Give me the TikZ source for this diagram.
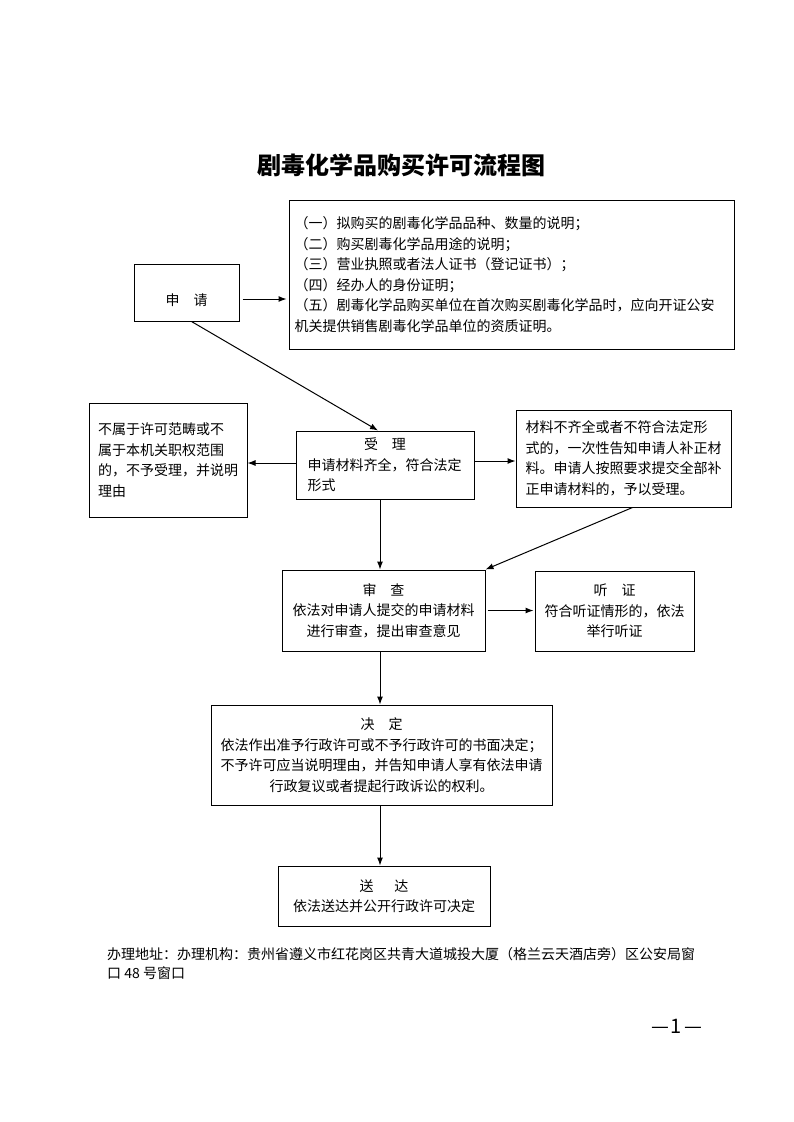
\documentclass[tikz,border=0pt]{standalone}
\usepackage{fontspec}
\setmainfont{Noto Sans CJK SC}
\usetikzlibrary{shapes,arrows,arrows.meta}

\tikzset{
  box/.style={draw, line width=1pt, inner sep=0pt, font=\fontsize{14}{20.5}\selectfont},
  arr/.style={-{Latex[length=8pt,width=6pt]}, line width=1pt}
}

\begin{document}
\begin{tikzpicture}[x=1pt,y=-1pt]
            \useasboundingbox (0,0) rectangle (793,1122);

            % Add title
            \node (title) at (401.5,165) {\fontsize{24}{28}\selectfont\bfseries 剧毒化学品购买许可流程图};

            % Draw boxes
            \node[box, minimum width=105pt, minimum height=57pt, text height=30pt, text depth=5pt] (apply) at (186.5,292.5) {申\quad 请};
            \node[box, minimum width=445pt, minimum height=149pt, text width=434pt, align=left] (req) at (511.5,274.5) {（一）拟购买的剧毒化学品品种、数量的说明；\\（二）购买剧毒化学品用途的说明；\\（三）营业执照或者法人证书（登记证书）；\\（四）经办人的身份证明；\\（五）剧毒化学品购买单位在首次购买剧毒化学品时，应向开证公安\\机关提供销售剧毒化学品单位的资质证明。\par\vspace*{10pt}};
            \node[box, minimum width=158pt, minimum height=114pt, text width=140pt, align=left] (noscope) at (168,460) {不属于许可范畴或不\\属于本机关职权范围\\的，不予受理，并说明\\理由\par\vspace*{17pt}};
            \node[box, minimum width=178pt, minimum height=68pt, text width=155pt, align=left] (accept) at (385,465) {\hfill 受\quad 理\hfill\null\\申请材料齐全，符合法定\\形式\par\vspace*{4pt}};
            \node[box, minimum width=215pt, minimum height=97pt, text width=196pt, align=left] (notify) at (623.5,458.5) {材料不齐全或者不符合法定形\\式的，一次性告知申请人补正材\\料。申请人按照要求提交全部补\\正申请材料的，予以受理。\par\vspace*{7pt}};
            \node[box, minimum width=203pt, minimum height=81pt, text width=190pt, align=center] (review) at (383.5,610.5) {审\quad 查\\依法对申请人提交的申请材料\\进行审查，提出审查意见};
            \node[box, minimum width=159pt, minimum height=80pt, text width=150pt, align=center] (hearing) at (614.5,611) {听\quad 证\\符合听证情形的，依法\\举行听证};
            \node[box, minimum width=341pt, minimum height=100pt, text width=330pt, align=center] (decide) at (381.5,755) {决\quad 定\\依法作出准予行政许可或不予行政许可的书面决定；\\不予许可应当说明理由，并告知申请人享有依法申请\\行政复议或者提起行政诉讼的权利。\par\vspace*{5pt}};
            \node[box, minimum width=212pt, minimum height=60pt, text width=200pt, align=center] (deliver) at (384,896) {送\hspace{1.5em}达\\依法送达并公开行政许可决定\par\vspace*{8pt}};

            % Add arrows
            \draw[arr, shorten <=3pt, shorten >=2pt] ([yshift=-6.5pt]apply.east) -- ([yshift=-6.5pt]apply.east -| req.west);
            \draw[arr] ([xshift=5pt]apply.south) -- ([xshift=-7pt]accept.north);
            \draw[arr] ([yshift=2pt]accept.west) -- ([yshift=2pt]accept.west -| noscope.east);
            \draw[arr] ([yshift=4pt]accept.east) -- ([yshift=4pt]accept.east -| notify.west);
            \draw[arr] ([xshift=-5pt]accept.south) -- ([xshift=-5pt]accept.south |- review.north);
            \draw[arr] ([xshift=9pt]notify.south) -- (review.north east);
            \draw[arr, shorten <=2pt, shorten >=1pt] (review.east) -- (review.east -| hearing.west);
            \draw[arr] ([xshift=-3.5pt]review.south) -- ([xshift=-3.5pt]review.south |- decide.north);
            \draw[arr] ([xshift=-1.5pt]decide.south) -- ([xshift=-1.5pt]decide.south |- deliver.north);

            % Add footer
            \node[anchor=west, align=left, inner sep=0pt, font=\fontsize{14}{19.5}\selectfont] (addr) at (107,963.5) {办理地址：办理机构：贵州省遵义市红花岗区共青大道城投大厦（格兰云天酒店旁）区公安局窗\\口 48 号窗口};
            \node[font=\fontsize{20}{24}\selectfont] (pagenum) at (676.5,1026) {—\hspace{2pt}1\hspace{2pt}—};
        \end{tikzpicture}
\end{document}
